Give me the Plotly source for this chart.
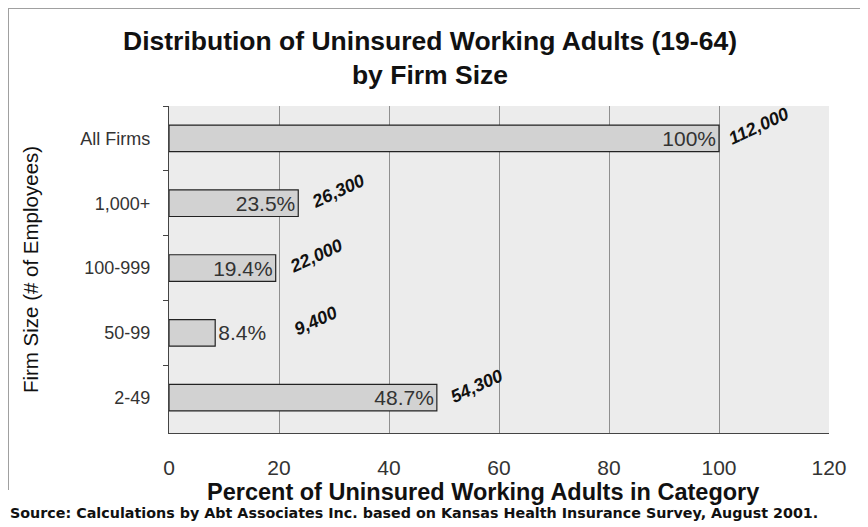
import plotly.graph_objects as go

categories = ["All Firms", "1,000+", "100-999", "50-99", "2-49"]
percents = [100, 23.5, 19.4, 8.4, 48.7]
pct_labels = ["100%", "23.5%", "19.4%", "8.4%", "48.7%"]
counts = ["112,000", "26,300", "22,000", "9,400", "54,300"]
x_ticks = [0, 20, 40, 60, 80, 100, 120]

FONT = "Liberation Sans, Arial, sans-serif"
text_pos = ["inside" if p > 15 else "outside" for p in percents]

# figure geometry (the page body adds an 8px offset)
W, H = 860, 519
ML, MR, MT, MB = 161, 39, 98, 94
PW, PH = W - ML - MR, H - MT - MB


def px(fx):
    return (fx - ML) / PW


def py(fy):
    return (H - MB - fy) / PH


fig = go.Figure()
fig.add_trace(go.Bar(
    y=categories, x=percents, orientation="h",
    width=0.41,
    marker=dict(color="#d2d2d2", line=dict(color="#222222", width=1.2)),
    text=pct_labels, textposition=text_pos, insidetextanchor="end",
    constraintext="none", cliponaxis=False,
    textfont=dict(family=FONT, size=21, color="#333333"),
    hoverinfo="skip",
))

for cat, p, c, pos in zip(categories, percents, counts, text_pos):
    fig.add_annotation(
        x=p, y=cat, xref="x", yref="y", text=c, showarrow=False,
        textangle=-25, xanchor="center", yanchor="middle",
        xshift=(100 if pos == "outside" else 40), yshift=12,
        font=dict(family=FONT, size=18, color="#111111",
                  weight="bold", style="italic"),
    )

fig.update_layout(
    width=W, height=H,
    margin=dict(l=ML, r=MR, t=MT, b=MB),
    paper_bgcolor="white", plot_bgcolor="#ececec",
    showlegend=False,
    title=dict(
        text="Distribution of Uninsured Working Adults (19-64)<br>by Firm Size",
        x=422 / W, xanchor="center", xref="container", y=1 - 42 / H, yanchor="top",
        font=dict(family=FONT, size=26.5, color="#111111", weight="bold"),
    ),
    font=dict(family=FONT, color="#222222"),
)
fig.update_xaxes(
    range=[0, 120], tickvals=x_ticks, ticktext=[str(v) for v in x_ticks],
    showgrid=True, gridcolor="#8f8f8f", gridwidth=1,
    showline=True, linecolor="#444444", linewidth=1.2,
    ticks="", zeroline=False, automargin=False,
    ticklabelstandoff=16,
    tickfont=dict(family=FONT, size=21, color="#333333"),
)
fig.update_yaxes(
    autorange="reversed", tickson="boundaries", ticks="outside", ticklen=5,
    tickcolor="#444444", showline=True, linecolor="#444444", linewidth=1.2,
    showgrid=False, ticklabelstandoff=14, automargin=False,
    tickfont=dict(family=FONT, size=18, color="#333333"),
    title=dict(text="Firm Size (# of Employees)",
               font=dict(family=FONT, size=20.5, color="#111111"), standoff=36),
)
# x-axis title (offset from the plot centre as in the original)
fig.add_annotation(
    text="<b>Percent of Uninsured Working Adults in Category</b>",
    xref="paper", yref="paper", x=px(475), y=py(484), xanchor="center", yanchor="middle",
    showarrow=False, font=dict(family=FONT, size=23.5, color="#111111"),
)
fig.add_annotation(
    text="<b>Source: Calculations by Abt Associates Inc. based on Kansas Health Insurance Survey, August 2001.</b>",
    xref="paper", yref="paper", x=px(0), y=py(505), xanchor="left", yanchor="middle",
    showarrow=False, font=dict(family="DejaVu Sans, sans-serif", size=14.3, color="#111111"),
)
# thin frame lines (left and top) around the chart
fig.add_shape(type="line", xref="paper", yref="paper", x0=px(0.5), x1=px(0.5),
              y0=py(0), y1=py(482), line=dict(color="#a0a0a0", width=1))
fig.add_shape(type="line", xref="paper", yref="paper", x0=px(0.5), x1=px(W),
              y0=py(0.5), y1=py(0.5), line=dict(color="#a0a0a0", width=1))
fig.write_html("out.html")
